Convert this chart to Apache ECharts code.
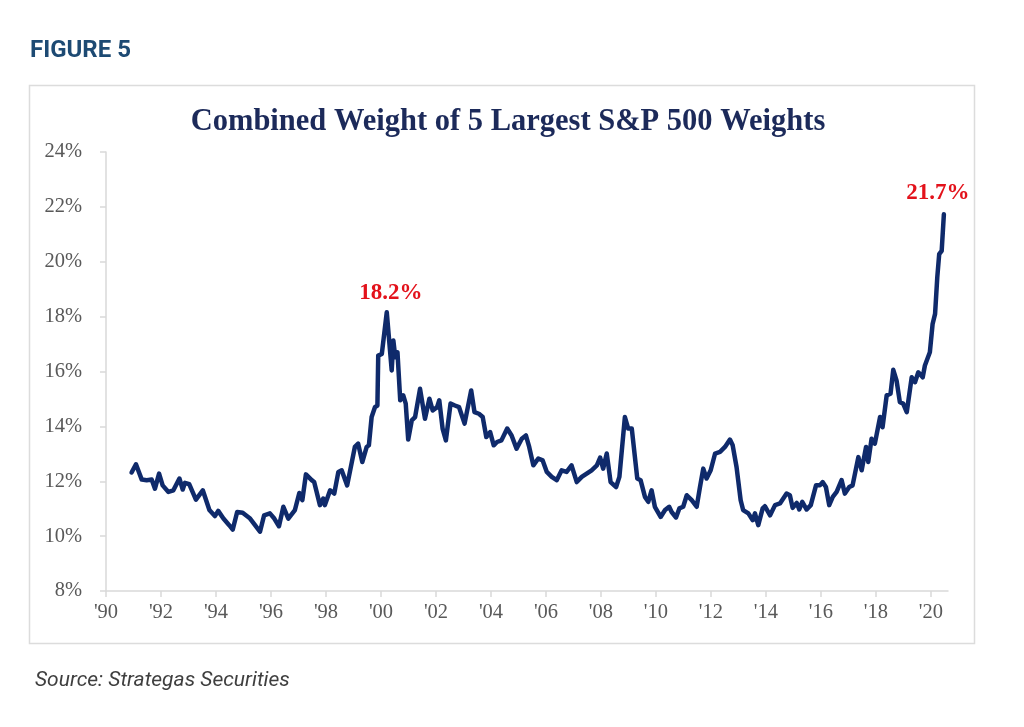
<!DOCTYPE html>
<html>
<head>
<meta charset="utf-8">
<script src="https://cdn.jsdelivr.net/npm/echarts@6/dist/echarts.min.js"></script>
<style>
  html, body { margin: 0; padding: 0; background: #ffffff; }
  #chart { width: 1024px; height: 727px; }
</style>
</head>
<body>
<div id="chart"></div>
<script>
// ---- Data ----
const years = [
  1990.93, 1991.09, 1991.30, 1991.48, 1991.66, 1991.78, 1991.93, 1992.06, 1992.27, 1992.45,
  1992.67, 1992.79, 1992.87, 1993.03, 1993.27, 1993.52, 1993.76, 1993.96, 1994.08, 1994.27,
  1994.48, 1994.61, 1994.77, 1994.97, 1995.24, 1995.42, 1995.60, 1995.75, 1995.96, 1996.12,
  1996.29, 1996.45, 1996.63, 1996.87, 1997.03, 1997.14, 1997.27, 1997.48, 1997.57, 1997.78,
  1997.90, 1997.96, 1998.15, 1998.30, 1998.45, 1998.57, 1998.77, 1999.05, 1999.17, 1999.32,
  1999.48, 1999.56, 1999.66, 1999.78, 1999.87, 1999.90, 2000.03, 2000.21, 2000.39, 2000.45,
  2000.52, 2000.60, 2000.70, 2000.81, 2000.90, 2000.99, 2001.12, 2001.24, 2001.42, 2001.60,
  2001.76, 2001.88, 2002.04, 2002.12, 2002.24, 2002.36, 2002.53, 2002.69, 2002.84, 2003.04,
  2003.28, 2003.40, 2003.56, 2003.70, 2003.83, 2003.97, 2004.10, 2004.22, 2004.38, 2004.59,
  2004.75, 2004.93, 2005.12, 2005.27, 2005.39, 2005.54, 2005.72, 2005.88, 2006.03, 2006.21,
  2006.39, 2006.57, 2006.75, 2006.93, 2007.12, 2007.30, 2007.48, 2007.66, 2007.85, 2007.97,
  2008.08, 2008.21, 2008.35, 2008.55, 2008.67, 2008.87, 2008.99, 2009.12, 2009.32, 2009.44,
  2009.60, 2009.72, 2009.84, 2009.96, 2010.17, 2010.33, 2010.48, 2010.57, 2010.73, 2010.85,
  2010.99, 2011.12, 2011.30, 2011.48, 2011.60, 2011.72, 2011.84, 2011.99, 2012.15, 2012.33,
  2012.51, 2012.69, 2012.79, 2012.93, 2013.08, 2013.17, 2013.36, 2013.52, 2013.60, 2013.72,
  2013.88, 2013.96, 2014.15, 2014.33, 2014.51, 2014.75, 2014.87, 2014.97, 2015.12, 2015.21,
  2015.32, 2015.48, 2015.63, 2015.82, 2015.96, 2016.06, 2016.18, 2016.30, 2016.43, 2016.57,
  2016.75, 2016.87, 2017.03, 2017.15, 2017.36, 2017.48, 2017.64, 2017.72, 2017.84, 2017.96,
  2018.15, 2018.24, 2018.39, 2018.53, 2018.63, 2018.75, 2018.87, 2018.99, 2019.12, 2019.30,
  2019.42, 2019.54, 2019.70, 2019.78, 2019.96, 2020.06, 2020.15, 2020.23, 2020.30, 2020.39,
  2020.47
];
const weights = [
  12.32, 12.62, 12.06, 12.04, 12.06, 11.73, 12.28, 11.85, 11.61, 11.67,
  12.10, 11.70, 11.94, 11.89, 11.33, 11.67, 10.95, 10.73, 10.92, 10.64,
  10.40, 10.24, 10.88, 10.85, 10.64, 10.40, 10.16, 10.76, 10.83, 10.64,
  10.36, 11.07, 10.64, 10.95, 11.57, 11.31, 12.25, 12.04, 11.97, 11.13,
  11.37, 11.13, 11.67, 11.55, 12.34, 12.40, 11.85, 13.25, 13.37, 12.70,
  13.25, 13.31, 14.34, 14.70, 14.76, 16.58, 16.64, 18.16, 16.04, 17.13,
  16.52, 16.70, 14.95, 15.13, 14.83, 13.52, 14.22, 14.34, 15.37, 14.28,
  15.01, 14.58, 14.70, 14.95, 13.92, 13.49, 14.83, 14.76, 14.70, 14.10,
  15.31, 14.52, 14.46, 14.34, 13.61, 13.79, 13.31, 13.43, 13.49, 13.92,
  13.67, 13.19, 13.55, 13.67, 13.25, 12.58, 12.83, 12.76, 12.34, 12.16,
  12.04, 12.40, 12.34, 12.58, 11.97, 12.16, 12.28, 12.40, 12.58, 12.86,
  12.46, 13.01, 11.97, 11.79, 12.16, 14.34, 13.92, 13.92, 12.10, 12.04,
  11.43, 11.25, 11.67, 11.07, 10.70, 10.95, 11.07, 10.88, 10.68, 11.01,
  11.07, 11.49, 11.31, 11.07, 11.79, 12.46, 12.10, 12.40, 13.01, 13.07,
  13.25, 13.52, 13.31, 12.52, 11.31, 10.95, 10.83, 10.58, 10.83, 10.40,
  11.01, 11.09, 10.76, 11.13, 11.19, 11.55, 11.49, 11.03, 11.21, 10.97,
  11.25, 10.97, 11.13, 11.85, 11.85, 11.97, 11.79, 11.13, 11.43, 11.61,
  12.04, 11.55, 11.79, 11.85, 12.88, 12.40, 13.25, 12.70, 13.55, 13.37,
  14.34, 13.97, 15.13, 15.19, 16.06, 15.67, 14.88, 14.83, 14.52, 15.79,
  15.61, 15.97, 15.79, 16.22, 16.70, 17.73, 18.10, 19.43, 20.28, 20.40,
  21.73
];
const xTickYears = [1990, 1992, 1994, 1996, 1998, 2000, 2002, 2004, 2006, 2008, 2010, 2012, 2014, 2016, 2018, 2020];
const xTickLabels = ["'90", "'92", "'94", "'96", "'98", "'00", "'02", "'04", "'06", "'08", "'10", "'12", "'14", "'16", "'18", "'20"];
const peakNotes = [
  { year: 2000.21, value: 18.16, text: '18.2%' },
  { year: 2020.47, value: 21.73, text: '21.7%' }
];

const seriesData = years.map((y, i) => [y, weights[i]]);

const chart = echarts.init(document.getElementById('chart'), null, { renderer: 'canvas' });

const option = {
  animation: false,
  backgroundColor: '#ffffff',
  title: {
    text: 'Combined Weight of 5 Largest S&P 500 Weights',
    left: 503,
    top: 102,
    textAlign: 'center',
    textStyle: {
      fontFamily: 'Liberation Serif',
      fontWeight: 'bold',
      fontSize: 30.5,
      color: '#1c2a5a'
    }
  },
  graphic: [
    {
      type: 'rect',
      shape: { x: 29.5, y: 85.5, width: 945, height: 558 },
      style: { fill: 'none', stroke: '#dcdcdc', lineWidth: 1.5 },
      silent: true
    },
    {
      type: 'text',
      left: 30,
      top: 39,
      style: {
        text: 'FIGURE 5',
        font: 'bold 24px Roboto',
        fill: '#1d4a73'
      }
    },
    {
      type: 'text',
      left: 35,
      top: 670,
      style: {
        text: 'Source: Strategas Securities',
        font: 'italic 21px Roboto',
        fill: '#3f3f3f'
      }
    }
  ],
  grid: {
    left: 106,
    right: 76,
    top: 152,
    bottom: 136,
    containLabel: false
  },
  xAxis: {
    type: 'value',
    min: 1990,
    max: 2020.62,
    splitLine: { show: false },
    axisLine: { show: true, lineStyle: { color: '#d9d9d9', width: 1.5 } },
    axisTick: {
      show: true,
      customValues: xTickYears,
      length: 6,
      lineStyle: { color: '#d9d9d9', width: 1.5 }
    },
    axisLabel: {
      customValues: xTickYears,
      margin: 11,
      fontFamily: 'Liberation Serif',
      fontSize: 20.5,
      color: '#595959',
      formatter: function (v) {
        const idx = xTickYears.indexOf(Math.round(v));
        return idx >= 0 ? xTickLabels[idx] : '';
      }
    }
  },
  yAxis: {
    type: 'value',
    min: 8,
    max: 24,
    interval: 2,
    splitLine: { show: false },
    axisLine: { show: true, lineStyle: { color: '#d9d9d9', width: 1.5 } },
    axisTick: { show: true, length: 6, lineStyle: { color: '#d9d9d9', width: 1.5 } },
    axisLabel: {
      margin: 24,
      fontFamily: 'Liberation Serif',
      fontSize: 20.5,
      color: '#595959',
      formatter: '{value}%'
    }
  },
  series: [
    {
      type: 'line',
      data: seriesData,
      showSymbol: false,
      symbol: 'none',
      lineStyle: { color: '#0f2a6b', width: 4.5, join: 'round', cap: 'round' },
      markPoint: {
        symbol: 'circle',
        symbolSize: 0,
        silent: true,
        label: {
          show: true,
          position: 'top',
          distance: 8,
          fontFamily: 'Liberation Serif',
          fontWeight: 'bold',
          fontSize: 23,
          color: '#e3121b'
        },
        data: peakNotes.map((p, i) => ({
          coord: [p.year, p.value],
          value: p.text,
          label: {
            formatter: p.text,
            offset: i === 1 ? [-6, -2] : [4, 0]
          }
        }))
      }
    }
  ]
};

chart.setOption(option);
</script>
</body>
</html>
